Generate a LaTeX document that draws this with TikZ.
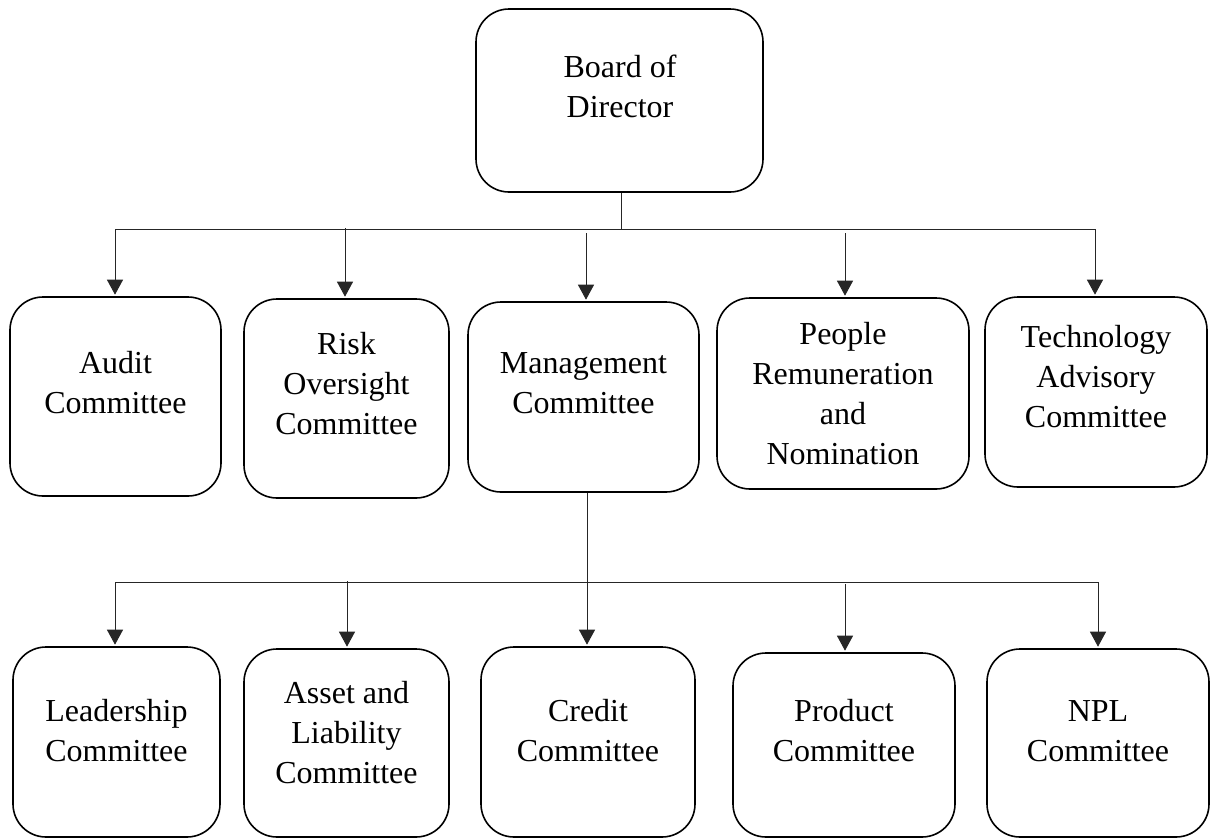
\documentclass[tikz,border=0pt]{standalone}
\usepackage{fontspec}
\setmainfont{Liberation Serif}
\usetikzlibrary{arrows.meta}
\begin{document}
\begin{tikzpicture}[x=1pt,y=1pt,
  box/.style={draw, line width=1.6pt, rounded corners=33pt, inner sep=0pt},
  txt/.style={font=\fontsize{32}{40}\selectfont, align=center, inner sep=0pt},
  conn/.style={line width=1pt, draw=black!85},
  arr/.style={conn, -{Triangle[width=16pt,length=15pt]}, shorten >=1.5pt}]
\useasboundingbox (0,0) rectangle (1211,-838);
% top
\node[box, minimum width=287pt, minimum height=183pt] (board) at (619.5,-100.5) {};
\node[txt] (boardt) at (620,-86) {Board of\\Director};
% row 1
\node[box, minimum width=211pt, minimum height=199pt] (audit) at (115.5,-396.5) {};
\node[txt] (auditt) at (115.5,-383) {Audit\\Committee};
\node[box, minimum width=205pt, minimum height=199pt] (risk) at (346.5,-398.5) {};
\node[txt] (riskt) at (346.5,-384) {Risk\\Oversight\\Committee};
\node[box, minimum width=231pt, minimum height=190pt] (mgmt) at (583.5,-397) {};
\node[txt] (mgmtt) at (583.5,-383) {Management\\Committee};
\node[box, minimum width=252pt, minimum height=191pt] (people) at (843,-393.5) {};
\node[txt] (peoplet) at (843,-394) {People\\Remuneration\\and\\Nomination};
\node[box, minimum width=222pt, minimum height=190pt] (tech) at (1096,-392) {};
\node[txt] (techt) at (1096,-377) {Technology\\Advisory\\Committee};
% row 2
\node[box, minimum width=207pt, minimum height=190pt] (lead) at (116.5,-742) {};
\node[txt] (leadt) at (116.5,-731) {Leadership\\Committee};
\node[box, minimum width=205pt, minimum height=188pt] (asset) at (346.5,-743) {};
\node[txt] (assett) at (346.5,-733) {Asset and\\Liability\\Committee};
\node[box, minimum width=214pt, minimum height=190pt] (credit) at (588,-742) {};
\node[txt] (creditt) at (588,-731) {Credit\\Committee};
\node[box, minimum width=222pt, minimum height=184pt] (product) at (844,-745) {};
\node[txt] (productt) at (844,-731) {Product\\Committee};
\node[box, minimum width=222pt, minimum height=188pt] (npl) at (1098,-743) {};
\node[txt] (nplt) at (1098,-731) {NPL\\Committee};
% connectors level 1
\coordinate (stem) at (621,-229);
\coordinate (b1L) at (115,-229);
\coordinate (b1R) at (1095,-229);
\coordinate (d2) at (345,-228);
\coordinate (d3) at (586,-233);
\coordinate (d4) at (845,-233);
\draw[conn] (stem |- board.south) -- (stem);
\draw[conn] (b1L) -- (b1R);
\draw[arr] (b1L) -- (b1L |- audit.north);
\draw[arr] (d2) -- (d2 |- risk.north);
\draw[arr] (d3) -- (d3 |- mgmt.north);
\draw[arr] (d4) -- (d4 |- people.north);
\draw[arr] (b1R) -- (b1R |- tech.north);
% connectors level 2
\coordinate (m) at (587,-582);
\coordinate (b2L) at (115,-582);
\coordinate (b2R) at (1098,-582);
\coordinate (e2) at (347,-581);
\coordinate (e4) at (845,-584);
\draw[conn] (b2L) -- (b2R);
\draw[arr] (m |- mgmt.south) -- (m |- credit.north);
\draw[arr] (b2L) -- (b2L |- lead.north);
\draw[arr] (e2) -- (e2 |- asset.north);
\draw[arr] (e4) -- (e4 |- product.north);
\draw[arr] (b2R) -- (b2R |- npl.north);
\end{tikzpicture}
\end{document}
